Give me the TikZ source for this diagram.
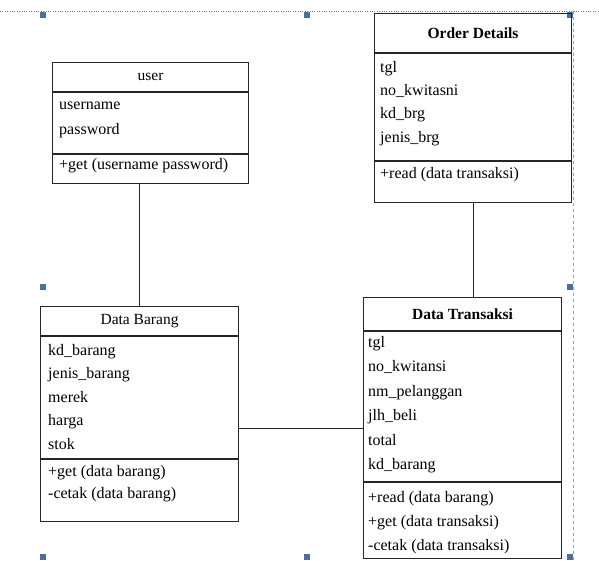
\documentclass[tikz,border=0pt]{standalone}
\usepackage{fontspec}
\setmainfont{Liberation Serif}
\usetikzlibrary{positioning, calc}
\definecolor{gripBlue}{HTML}{4F6E9A}
\definecolor{frameBlue}{HTML}{8FA3C4}

\tikzset{
  umlbox/.style={draw=black!85, line width=1.1pt, anchor=north west, inner sep=0pt},
  umlline/.style={draw=black!85, line width=1.1pt},
  umltitle/.style={inner sep=0pt, font=\fontsize{15.5}{18}\selectfont},
  umlitems/.style={anchor=north west, align=left, inner sep=0pt,
    font=\fontsize{16}{#1}\selectfont},
  umlitems/.default=24,
}

\begin{document}
\begin{tikzpicture}[x=1pt,y=-1pt]
  \useasboundingbox (0,0) rectangle (599,560);
  % selection frame round the drawing
  \draw[black!55, dotted] (0,11) -- (599,11);
  \draw[frameBlue, dashed] (573,11) -- (573,560);
  \foreach \gx/\gy in {43/15, 307/15, 570/15, 43/287, 570/287, 43/557, 307/557, 570/557}
    \fill[gripBlue] (\gx-3,\gy-3) rectangle ++(6,6);

  % user
  \node[umlbox, minimum width=196pt, minimum height=121pt] (user) at (52,62) {};
  \node[umltitle] (usertitle) at ($(user.north)+(0,15)$) {user};
  \draw[umlline] ($(user.north west)+(0,30)$) -- ($(user.north east)+(0,30)$);
  \draw[umlline] ($(user.north west)+(0,92)$) -- ($(user.north east)+(0,92)$);
  \node[umlitems=25] (userattr) at ($(user.north west)+(7,40)$) {username\\password};
  \node[umlitems] (userops) at ($(user.north west)+(7,96)$) {+get (username password)};

  % Order Details
  \node[umlbox, minimum width=197pt, minimum height=189pt] (order) at (374,13) {};
  \node[umltitle, font=\fontsize{15.5}{18}\selectfont\bfseries] (ordertitle) at ($(order.north)+(0,20)$) {Order Details};
  \draw[umlline] ($(order.north west)+(0,40)$) -- ($(order.north east)+(0,40)$);
  \draw[umlline] ($(order.north west)+(0,148)$) -- ($(order.north east)+(0,148)$);
  \node[umlitems=23.3] (orderattr) at ($(order.north west)+(6,48)$) {tgl\\no\_kwitasni\\kd\_brg\\jenis\_brg};
  \node[umlitems] (orderops) at ($(order.north west)+(6,154)$) {+read (data transaksi)};

  % Data Barang
  \node[umlbox, minimum width=198pt, minimum height=215pt] (barang) at (40,306) {};
  \node[umltitle] (barangtitle) at ($(barang.north)+(0,15)$) {Data Barang};
  \draw[umlline] ($(barang.north west)+(0,30)$) -- ($(barang.north east)+(0,30)$);
  \draw[umlline] ($(barang.north west)+(0,153)$) -- ($(barang.north east)+(0,153)$);
  \node[umlitems=23.5] (barangattr) at ($(barang.north west)+(8,38)$) {kd\_barang\\jenis\_barang\\merek\\harga\\stok};
  \node[umlitems=22] (barangops) at ($(barang.north west)+(8,159)$) {+get (data barang)\\-cetak (data barang)};

  % Data Transaksi
  \node[umlbox, minimum width=198pt, minimum height=261pt] (transaksi) at (363,297) {};
  \node[umltitle, font=\fontsize{15.5}{18}\selectfont\bfseries] (transaksititle) at ($(transaksi.north)+(0,17)$) {Data Transaksi};
  \draw[umlline] ($(transaksi.north west)+(0,34)$) -- ($(transaksi.north east)+(0,34)$);
  \draw[umlline] ($(transaksi.north west)+(0,185)$) -- ($(transaksi.north east)+(0,185)$);
  \node[umlitems=24.5] (transaksiattr) at ($(transaksi.north west)+(5,39)$) {tgl\\no\_kwitansi\\nm\_pelanggan\\jlh\_beli\\total\\kd\_barang};
  \node[umlitems] (transaksiops) at ($(transaksi.north west)+(5,194)$) {+read (data barang)\\+get (data transaksi)\\-cetak (data transaksi)};

  % associations
  \draw[umlline] (barang.north) -- (barang.north |- user.south);
  \draw[umlline] (order.south) -- (order.south |- transaksi.north);
  \draw[umlline] (transaksi.west) -- (transaksi.west -| barang.east);
\end{tikzpicture}
\end{document}
